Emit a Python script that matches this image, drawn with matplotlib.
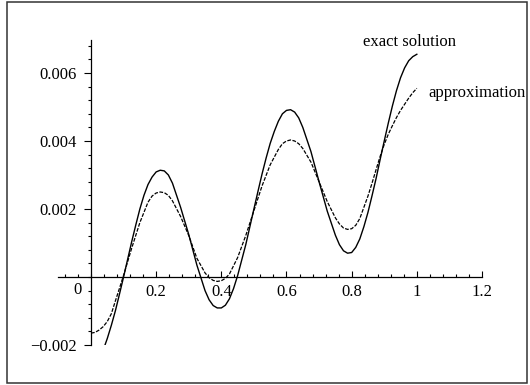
import matplotlib
matplotlib.use("Agg")
import matplotlib.pyplot as plt
from matplotlib.patches import Rectangle
from matplotlib.ticker import MultipleLocator, FixedLocator

# exact solution
x_exact = [0.043, 0.05, 0.0625, 0.075, 0.0875, 0.1, 0.125, 0.1375, 0.15, 0.1625, 0.175,
           0.1875, 0.2, 0.2125, 0.225, 0.2375, 0.25, 0.275, 0.3, 0.325, 0.35,
           0.3625, 0.375, 0.3875, 0.4, 0.4125, 0.425, 0.4375, 0.45, 0.475, 0.5,
           0.5125, 0.525, 0.5375, 0.55, 0.5625, 0.575, 0.5875, 0.6, 0.6125, 0.625, 0.6375, 0.65, 0.675,
           0.7, 0.725, 0.75, 0.7625, 0.775, 0.7875, 0.8, 0.8125, 0.825, 0.8375, 0.85,
           0.8625, 0.875, 0.8875, 0.9, 0.9125, 0.925, 0.9375, 0.95, 0.9625, 0.975, 0.9875, 1.0]
y_exact = [-0.0020, -0.00181, -0.00142, -0.00099, -0.00050, 0.0, 0.00104, 0.00153, 0.00200, 0.00240, 0.00272,
           0.00294, 0.00309, 0.00314, 0.00312, 0.00300, 0.00276, 0.00205, 0.00125, 0.00035, -0.00040,
           -0.00067, -0.00084, -0.00091, -0.00091, -0.00083, -0.00064, -0.00034, 0.00004, 0.00095, 0.00200,
           0.00252, 0.00303, 0.00350, 0.00393, 0.00428, 0.00458, 0.00480, 0.00490, 0.00492, 0.00485, 0.00468, 0.00440, 0.00369,
           0.00280, 0.00194, 0.00123, 0.00095, 0.00077, 0.00070, 0.00072, 0.00087, 0.00112, 0.00148, 0.00190,
           0.00239, 0.00290, 0.00346, 0.00400, 0.00453, 0.00503, 0.00548, 0.00586, 0.00615, 0.00636, 0.00648, 0.00655]

# approximation
x_approx = [0.0, 0.0125, 0.025, 0.0375, 0.05, 0.0625, 0.075, 0.0875, 0.1, 0.125,
            0.15, 0.175, 0.1875, 0.2, 0.2125, 0.225, 0.2375, 0.25, 0.275, 0.3,
            0.325, 0.35, 0.3625, 0.375, 0.3875, 0.4, 0.4125, 0.425, 0.45, 0.475,
            0.5, 0.525, 0.55, 0.575, 0.5875, 0.6, 0.6125, 0.625, 0.6375, 0.65,
            0.675, 0.7, 0.725, 0.75, 0.7625, 0.775, 0.7875, 0.8, 0.8125, 0.825,
            0.85, 0.8625, 0.875, 0.8875, 0.9, 0.9125, 0.925, 0.9375, 0.95, 0.9625, 0.975, 0.9875, 1.0]
y_approx = [-0.00165, -0.00163, -0.00156, -0.00146, -0.00131, -0.00108, -0.00070, -0.00033, 0.00005, 0.00085,
            0.00160, 0.00220, 0.00238, 0.00247, 0.00250, 0.00248, 0.00240, 0.00224, 0.00178, 0.00122,
            0.00055, 0.00012, -0.00002, -0.00010, -0.00013, -0.00011, -0.00004, 0.00009, 0.00057, 0.00122,
            0.00195, 0.00268, 0.00330, 0.00375, 0.00392, 0.00400, 0.00403, 0.00400, 0.00392, 0.00378,
            0.00338, 0.00280, 0.00222, 0.00174, 0.00156, 0.00144, 0.00140, 0.00142, 0.00152, 0.00172,
            0.00238, 0.00276, 0.00316, 0.00355, 0.00390, 0.00420, 0.00445, 0.00469, 0.00490, 0.00508, 0.00526, 0.00542, 0.00555]

xticks = [0.2, 0.4, 0.6, 0.8, 1.0, 1.2]
xtick_labels = ["0.2", "0.4", "0.6", "0.8", "1", "1.2"]
yticks = [-0.002, 0.002, 0.004, 0.006]
ytick_labels = ["\u22120.002", "0.002", "0.004", "0.006"]

plt.rcParams["font.family"] = ["Liberation Serif", "DejaVu Serif"]
plt.rcParams["font.size"] = 12

fig = plt.figure(figsize=(5.3, 3.85), dpi=100)
ax = fig.add_axes([58.4 / 530, 40 / 385, (482 - 58.4) / 530, (345 - 40) / 385])

ax.plot(x_exact, y_exact, color="black", lw=1.0)
ax.plot(x_approx, y_approx, color="black", lw=0.9, linestyle=(0, (3, 1.2)))

ax.set_xlim(-0.1, 1.2)
ax.set_ylim(-0.002, 0.00697)

ax.spines["left"].set_position(("data", 0))
ax.spines["bottom"].set_position(("data", 0))
ax.spines["top"].set_visible(False)
ax.spines["right"].set_visible(False)
for s in ("left", "bottom"):
    ax.spines[s].set_linewidth(0.9)

ax.xaxis.set_major_locator(FixedLocator(xticks))
ax.set_xticklabels(xtick_labels)
ax.xaxis.set_minor_locator(MultipleLocator(0.04))
ax.yaxis.set_major_locator(FixedLocator(yticks))
ax.set_yticklabels(ytick_labels)
ax.yaxis.set_minor_locator(MultipleLocator(0.0004))

ax.tick_params(axis="x", which="major", direction="in", length=4, width=0.8, pad=5, labelsize=12)
ax.tick_params(axis="x", which="minor", direction="in", length=2, width=0.8)
ax.tick_params(axis="y", which="major", direction="out", length=5, width=0.8, pad=5, labelsize=12)
ax.tick_params(axis="y", which="minor", direction="out", length=2.5, width=0.8)

ax.text(-0.04, -0.00038, "0", ha="center", va="center", fontsize=12)
ax.text(0.835, 0.00691, "exact solution", ha="left", va="center", fontsize=12)
ax.text(1.034, 0.00540, "approximation", ha="left", va="center", fontsize=12)

fig.patches.append(Rectangle((7 / 530, 2 / 385), 520 / 530, 381 / 385,
                             transform=fig.transFigure, fill=False,
                             edgecolor="#333333", lw=1.1))

fig.savefig("out.png", dpi=100)
